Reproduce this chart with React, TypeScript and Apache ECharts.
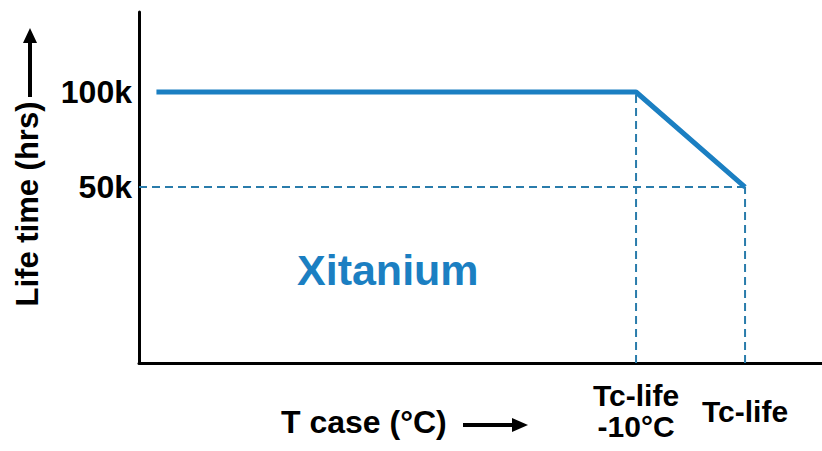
import React, { useEffect, useRef } from "react";
import * as echarts from "echarts";

// x: case temperature relative to Tc-life (°C); y: life time (hrs)
const lifeX: number[] = [-54, -10, 0];
const lifeY: number[] = [100000, 100000, 50000];
const yTicks: number[] = [50000, 100000];
const yTickLabels: string[] = ["50k", "100k"];
const xTicks: number[] = [-10, 0];
const xTickLabels: string[] = ["Tc-life\n-10°C", "Tc-life"];

const X_MIN = -55.6;
const X_MAX = 7.06;
const Y_MIN = -42600;
const Y_MAX = 142100;

const BLUE = "#1b7fc2";
const DASH = "#2a7cab";
const FONT = "Liberation Sans, Arial, sans-serif";

const findLabel = (ticks: number[], labels: string[], v: number) => {
  const i = ticks.findIndex((t) => Math.abs(t - v) < 1e-6);
  return i >= 0 ? labels[i] : "";
};

export default function App() {
  const ref = useRef<HTMLDivElement>(null);
  useEffect(() => {
    if (!ref.current) return;
    const chart = echarts.init(ref.current, null, { renderer: "svg" });
    const mainLine = lifeX.map((x, i) => [x, lifeY[i]]);
    const kneeX = lifeX[1];
    const endX = lifeX[2];
    const endY = lifeY[2];
    const kneeY = lifeY[1];
    const dashStyle = { color: DASH, width: 2, type: [8, 5] as any };
    chart.setOption({
      animation: false,
      grid: { left: 139, right: 0, top: 12, bottom: 88, containLabel: false },
      xAxis: {
        type: "value",
        min: X_MIN,
        max: X_MAX,
        axisLine: { show: true, onZero: false, lineStyle: { color: "#000", width: 3 } },
        axisTick: { show: false },
        splitLine: { show: false },
        axisLabel: {
          customValues: xTicks,
          formatter: (v: number) => findLabel(xTicks, xTickLabels, v),
          fontSize: 30,
          fontWeight: "bold",
          fontFamily: FONT,
          color: "#000",
          verticalAlign: "middle",
          lineHeight: 31,
          margin: 48,
        },
      },
      yAxis: {
        type: "value",
        min: Y_MIN,
        max: Y_MAX,
        axisLine: { show: true, onZero: false, lineStyle: { color: "#000", width: 3 } },
        axisTick: { show: false },
        splitLine: { show: false },
        axisLabel: {
          customValues: yTicks,
          formatter: (v: number) => findLabel(yTicks, yTickLabels, v),
          fontSize: 32,
          fontWeight: "bold",
          fontFamily: FONT,
          color: "#000",
          margin: 7,
        },
      },
      series: [
        {
          type: "line",
          data: [[X_MIN, endY], [endX, endY]],
          showSymbol: false,
          lineStyle: dashStyle,
          z: 1,
        },
        {
          type: "line",
          data: [[kneeX, Y_MIN], [kneeX, kneeY]],
          showSymbol: false,
          lineStyle: dashStyle,
          z: 1,
        },
        {
          type: "line",
          data: [[endX, Y_MIN], [endX, endY]],
          showSymbol: false,
          lineStyle: dashStyle,
          z: 1,
        },
        {
          type: "line",
          data: mainLine,
          showSymbol: false,
          lineStyle: { color: BLUE, width: 5, join: "round" },
          z: 3,
        },
      ],
      graphic: [
        {
          type: "text",
          x: 297,
          y: 248,
          style: {
            text: "Xitanium",
            fontSize: 43,
            fontWeight: "bold",
            fontFamily: FONT,
            fill: BLUE,
            align: "left",
            verticalAlign: "top",
          },
        },
        {
          type: "text",
          x: 281,
          y: 422,
          style: {
            text: "T case (°C)",
            fontSize: 32,
            fontWeight: "bold",
            fontFamily: FONT,
            fill: "#000",
            align: "left",
            verticalAlign: "middle",
          },
        },
        {
          type: "line",
          shape: { x1: 463, y1: 425, x2: 516, y2: 425 },
          style: { stroke: "#000", lineWidth: 4 },
        },
        {
          type: "polygon",
          shape: { points: [[528, 425], [512, 418], [512, 432]] },
          style: { fill: "#000" },
        },
        {
          type: "text",
          x: 27,
          y: 204,
          rotation: Math.PI / 2,
          style: {
            text: "Life time (hrs)",
            fontSize: 31,
            fontWeight: "bold",
            fontFamily: FONT,
            fill: "#000",
            align: "center",
            verticalAlign: "middle",
          },
        },
        {
          type: "line",
          shape: { x1: 30, y1: 97, x2: 30, y2: 40 },
          style: { stroke: "#000", lineWidth: 4 },
        },
        {
          type: "polygon",
          shape: { points: [[30, 28], [23, 43], [37, 43]] },
          style: { fill: "#000" },
        },
      ],
    });
    return () => chart.dispose();
  }, []);
  return (
    <div
      ref={ref}
      style={{ position: "fixed", left: 0, top: 0, width: 822, height: 451, background: "#fff" }}
    />
  );
}
